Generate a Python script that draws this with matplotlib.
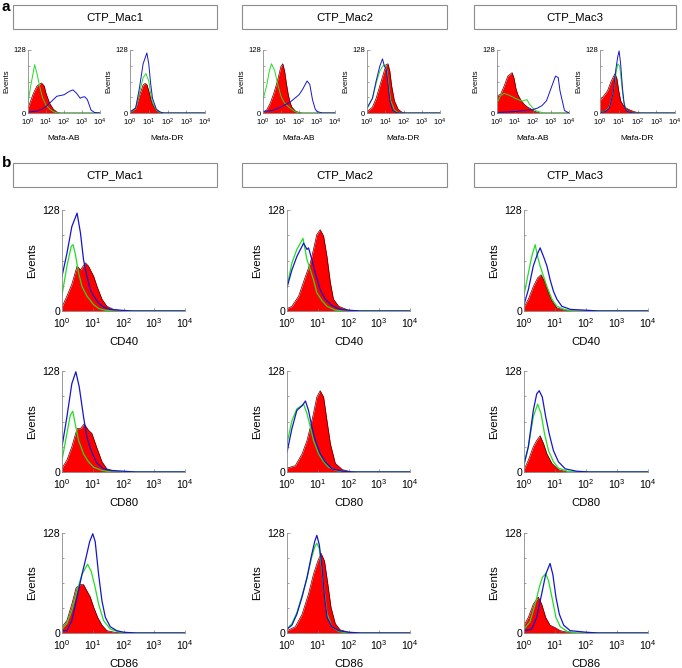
import matplotlib
matplotlib.use("Agg")
from matplotlib import pyplot as plt
from matplotlib.patches import Rectangle
import numpy as np

plt.rcParams['font.family'] = ['Liberation Sans', 'DejaVu Sans']
plt.rcParams['mathtext.fontset'] = 'custom'
plt.rcParams['mathtext.rm'] = 'Liberation Sans'
plt.rcParams['mathtext.it'] = 'Liberation Sans:italic'
plt.rcParams['mathtext.bf'] = 'Liberation Sans:bold'

# curves: (log10 fluorescence, events), one list per animal Mac1..Mac3
animals = ["CTP_Mac1", "CTP_Mac2", "CTP_Mac3"]

ab_red = [
    [(0, 10), (0.3, 40), (0.5, 55), (0.75, 61), (0.9, 55), (1.0, 40), (1.2, 20), (1.4, 8), (1.6, 2), (1.8, 0), (4, 0)],
    [(0, 2), (0.2, 6), (0.4, 20), (0.6, 40), (0.8, 65), (0.9, 80), (1.0, 95), (1.1, 100), (1.2, 85), (1.3, 60), (1.4, 38),
     (1.5, 22), (1.6, 12), (1.8, 4), (2.0, 1), (2.2, 0), (4, 0)],
    [(0, 35), (0.2, 38), (0.4, 55), (0.6, 75), (0.84, 82), (0.95, 70), (1.05, 50), (1.15, 38), (1.3, 28), (1.5, 18),
     (1.7, 12), (1.9, 8), (2.0, 5), (2.2, 2), (2.4, 0), (4, 0)],
]
ab_green = [
    [(0, 20), (0.15, 55), (0.37, 98), (0.5, 80), (0.65, 54), (0.8, 32), (1.0, 16), (1.2, 8), (1.4, 3), (1.6, 0), (4, 0)],
    [(0, 27), (0.2, 55), (0.35, 85), (0.47, 100), (0.65, 86), (0.84, 55), (1.0, 34), (1.2, 20), (1.5, 10), (1.77, 3),
     (2.0, 0), (4, 0)],
    [(0, 20), (0.2, 35), (0.4, 40), (0.6, 37), (0.8, 34), (1.0, 30), (1.2, 27), (1.4, 24), (1.55, 26), (1.67, 27),
     (1.8, 18), (2.0, 10), (2.2, 4), (2.5, 1), (2.7, 0), (4, 0)],
]
ab_blue = [
    [(0, 2), (0.5, 4), (0.8, 8), (1.0, 13), (1.4, 27), (1.6, 34), (2.0, 37), (2.3, 44), (2.5, 47), (2.7, 40), (2.9, 30),
     (3.0, 32), (3.15, 33), (3.3, 27), (3.5, 6), (3.7, 1), (4, 0)],
    [(0, 3), (0.5, 5), (1.0, 12), (1.5, 22), (2.0, 37), (2.2, 48), (2.45, 65), (2.6, 58), (2.75, 27), (2.9, 8), (3.0, 3),
     (3.3, 0), (4, 0)],
    [(0, 1), (1.0, 3), (1.5, 5), (2.0, 7), (2.25, 10), (2.5, 15), (2.75, 25), (3.0, 50), (3.25, 75), (3.4, 72), (3.5, 45),
     (3.75, 5), (4, 0)],
]

dr_red = [
    [(0, 2), (0.3, 10), (0.5, 35), (0.7, 57), (0.8, 60), (0.9, 58), (1.0, 45), (1.1, 30), (1.2, 18), (1.4, 6), (1.6, 2),
     (1.8, 0), (4, 0)],
    [(0, 3), (0.3, 12), (0.5, 30), (0.7, 55), (0.9, 80), (1.05, 98), (1.15, 100), (1.25, 85), (1.35, 55), (1.5, 25),
     (1.7, 8), (1.9, 2), (2.1, 0), (4, 0)],
    [(0, 25), (0.2, 35), (0.4, 45), (0.6, 65), (0.8, 80), (0.9, 70), (1.0, 45), (1.1, 25), (1.25, 15), (1.4, 10),
     (1.6, 6), (1.8, 3), (2.0, 1), (2.2, 0), (4, 0)],
]
dr_green = [
    [(0, 1), (0.3, 8), (0.5, 40), (0.7, 72), (0.85, 80), (1.0, 65), (1.1, 40), (1.2, 22), (1.4, 6), (1.6, 1), (1.8, 0),
     (4, 0)],
    [(0, 8), (0.3, 30), (0.5, 60), (0.7, 85), (0.85, 95), (1.0, 98), (1.1, 85), (1.2, 55), (1.3, 25), (1.5, 6), (1.7, 1),
     (1.9, 0), (4, 0)],
    [(0, 1), (0.3, 4), (0.5, 12), (0.7, 40), (0.85, 80), (0.95, 100), (1.05, 95), (1.15, 60), (1.25, 25), (1.4, 6),
     (1.6, 1), (1.8, 0), (4, 0)],
]
dr_blue = [
    [(0, 2), (0.3, 10), (0.5, 50), (0.7, 100), (0.9, 122), (1.0, 100), (1.1, 60), (1.2, 30), (1.4, 8), (1.6, 2),
     (1.8, 0), (4, 0)],
    [(0, 10), (0.3, 30), (0.5, 65), (0.7, 95), (0.85, 110), (0.95, 95), (1.05, 90), (1.15, 60), (1.25, 25), (1.4, 6),
     (1.6, 1), (1.8, 0), (4, 0)],
    [(0, 1), (0.3, 3), (0.5, 10), (0.7, 40), (0.85, 90), (0.95, 115), (1.02, 126), (1.1, 100), (1.2, 50), (1.3, 15),
     (1.4, 5), (1.6, 1), (1.8, 0), (4, 0)],
]

cd40_red = [
    [(0, 5), (0.16, 19), (0.32, 34), (0.49, 57), (0.6, 52), (0.76, 61), (0.86, 57), (1.03, 44), (1.14, 31), (1.3, 15),
     (1.46, 6), (1.68, 2), (2.0, 0), (4, 0)],
    [(0, 3), (0.16, 6), (0.38, 19), (0.6, 44), (0.76, 61), (0.86, 78), (0.97, 97), (1.08, 103), (1.19, 95), (1.3, 69),
     (1.41, 36), (1.51, 15), (1.68, 6), (2.0, 1), (2.3, 0), (4, 0)],
    [(0, 5), (0.14, 15), (0.3, 31), (0.44, 42), (0.55, 46), (0.68, 36), (0.79, 23), (0.9, 13), (1.06, 4), (1.3, 1),
     (1.6, 0), (4, 0)],
]
cd40_green = [
    [(0, 20), (0.16, 57), (0.3, 82), (0.36, 84), (0.43, 73), (0.54, 48), (0.65, 31), (0.81, 19), (1.03, 8), (1.2, 3),
     (1.4, 1), (1.7, 0), (4, 0)],
    [(0, 31), (0.16, 61), (0.32, 78), (0.49, 90), (0.52, 92), (0.65, 65), (0.76, 52), (0.86, 40), (0.97, 23), (1.14, 13),
     (1.3, 6), (1.57, 1), (1.9, 0), (4, 0)],
    [(0, 20), (0.14, 48), (0.25, 69), (0.36, 84), (0.44, 69), (0.52, 57), (0.63, 44), (0.74, 31), (0.9, 15), (1.06, 6),
     (1.3, 2), (1.6, 0), (4, 0)],
]
cd40_blue = [
    [(0, 44), (0.16, 73), (0.32, 107), (0.43, 118), (0.49, 124), (0.6, 99), (0.7, 65), (0.81, 44), (0.92, 27),
     (1.03, 19), (1.19, 10), (1.35, 5), (1.57, 2), (1.9, 1), (2.3, 0), (4, 0)],
    [(0, 30), (0.16, 52), (0.32, 69), (0.54, 86), (0.65, 78), (0.7, 80), (0.81, 65), (0.92, 48), (1.08, 27), (1.24, 15),
     (1.46, 7), (1.73, 2), (2.0, 1), (2.4, 0), (4, 0)],
    [(0, 8), (0.14, 27), (0.3, 57), (0.44, 73), (0.52, 80), (0.63, 69), (0.74, 57), (0.84, 40), (0.95, 25), (1.06, 15),
     (1.22, 6), (1.5, 2), (2.0, 1), (2.4, 0), (4, 0)],
]

cd80_red = [
    [(0, 5), (0.16, 15), (0.32, 32), (0.49, 55), (0.6, 55), (0.72, 61), (0.86, 53), (0.97, 49), (1.14, 30), (1.3, 13),
     (1.46, 4), (1.7, 1), (2.0, 0), (4, 0)],
    [(0, 5), (0.27, 8), (0.49, 23), (0.65, 40), (0.76, 57), (0.86, 74), (0.97, 95), (1.08, 103), (1.19, 95), (1.3, 65),
     (1.41, 36), (1.57, 11), (1.8, 3), (2.0, 1), (2.3, 0), (4, 0)],
    [(0, 3), (0.14, 15), (0.3, 32), (0.41, 40), (0.52, 46), (0.63, 36), (0.74, 23), (0.9, 11), (1.11, 3), (1.4, 0),
     (4, 0)],
]
cd80_green = [
    [(0, 15), (0.16, 49), (0.27, 72), (0.35, 77), (0.43, 61), (0.54, 40), (0.7, 23), (0.86, 13), (1.03, 6), (1.3, 2),
     (1.6, 0), (4, 0)],
    [(0, 36), (0.16, 65), (0.32, 80), (0.54, 86), (0.65, 74), (0.76, 57), (0.86, 40), (1.03, 23), (1.19, 13), (1.35, 6),
     (1.6, 2), (1.9, 0), (4, 0)],
    [(0, 8), (0.14, 32), (0.3, 70), (0.44, 86), (0.55, 74), (0.66, 49), (0.79, 27), (0.95, 13), (1.11, 5), (1.4, 1),
     (1.7, 0), (4, 0)],
]
cd80_blue = [
    [(0, 32), (0.16, 70), (0.32, 112), (0.45, 127), (0.56, 108), (0.7, 70), (0.81, 44), (0.97, 25), (1.14, 11),
     (1.35, 4), (1.6, 2), (2.0, 1), (2.4, 0), (4, 0)],
    [(0, 25), (0.16, 55), (0.32, 78), (0.49, 84), (0.6, 90), (0.7, 78), (0.81, 57), (0.92, 40), (1.08, 23), (1.24, 13),
     (1.46, 4), (1.8, 1), (2.2, 0), (4, 0)],
    [(0, 10), (0.14, 32), (0.3, 78), (0.41, 99), (0.49, 103), (0.59, 95), (0.7, 70), (0.81, 49), (0.95, 27), (1.11, 13),
     (1.33, 4), (1.7, 1), (2.1, 0), (4, 0)],
]

cd86_red = [
    [(0, 8), (0.16, 16), (0.32, 37), (0.46, 58), (0.59, 62), (0.7, 62), (0.81, 54), (0.92, 46), (1.03, 33), (1.16, 20),
     (1.3, 10), (1.46, 3), (1.7, 1), (2.0, 0), (4, 0)],
    [(0, 3), (0.27, 8), (0.49, 24), (0.7, 50), (0.86, 75), (1.0, 92), (1.11, 102), (1.22, 92), (1.33, 62), (1.43, 33),
     (1.57, 12), (1.73, 4), (2.0, 1), (2.3, 0), (4, 0)],
    [(0, 10), (0.14, 20), (0.3, 37), (0.46, 46), (0.57, 37), (0.7, 20), (0.84, 10), (1.0, 7), (1.17, 3), (1.4, 1),
     (1.7, 0), (4, 0)],
]
cd86_green = [
    [(0, 5), (0.16, 12), (0.32, 29), (0.49, 54), (0.65, 75), (0.83, 88), (0.95, 79), (1.08, 58), (1.19, 37), (1.35, 16),
     (1.57, 5), (1.8, 2), (2.1, 0), (4, 0)],
    [(0, 5), (0.16, 12), (0.32, 26), (0.49, 48), (0.65, 70), (0.79, 95), (0.9, 110), (0.97, 115), (1.05, 108),
     (1.14, 80), (1.22, 50), (1.3, 25), (1.46, 8), (1.68, 2), (2.0, 0), (4, 0)],
    [(0, 5), (0.19, 14), (0.36, 37), (0.49, 58), (0.59, 71), (0.7, 76), (0.79, 67), (0.9, 46), (1.03, 20), (1.17, 8),
     (1.4, 2), (1.7, 0), (4, 0)],
]
cd86_blue = [
    [(0, 3), (0.16, 3), (0.32, 16), (0.49, 46), (0.65, 75), (0.79, 98), (0.9, 117), (1.0, 127), (1.08, 117), (1.19, 75),
     (1.3, 41), (1.41, 20), (1.57, 8), (1.78, 3), (2.0, 1), (2.4, 0), (4, 0)],
    [(0, 5), (0.16, 10), (0.32, 24), (0.49, 46), (0.65, 71), (0.79, 98), (0.9, 117), (0.97, 125), (1.05, 113),
     (1.14, 84), (1.22, 46), (1.3, 20), (1.46, 8), (1.68, 3), (2.0, 1), (2.4, 0), (4, 0)],
    [(0, 3), (0.25, 5), (0.41, 20), (0.57, 50), (0.7, 75), (0.84, 89), (0.93, 75), (1.03, 46), (1.14, 24), (1.28, 10),
     (1.49, 3), (2.0, 1), (2.4, 0), (4, 0)],
]

W, H = 682, 668
fig = plt.figure(figsize=(W / 100, H / 100), dpi=100)


def px_axes(x0, x1, y0, y1):
    # pixel box (top-left origin) -> figure axes
    return fig.add_axes([x0 / W, 1 - y1 / H, (x1 - x0) / W, (y1 - y0) / H])


def title_box(x0, x1, y0, y1, text, size):
    fig.patches.append(Rectangle((x0 / W, 1 - y1 / H), (x1 - x0) / W, (y1 - y0) / H,
                                 transform=fig.transFigure, fill=False, edgecolor="#8c8c8c", lw=0.8))
    fig.text((x0 + x1) / 2 / W, 1 - (y0 + y1) / 2 / H, text, ha="center", va="center", fontsize=size)


def draw_hist(ax, red, green, blue, label, small):
    fs = 5.5 if small else 7.6
    lw = 0.7 if small else 0.9
    rx, ry = zip(*red)
    gx, gy = zip(*green)
    bx, by = zip(*blue)
    rx = 10 ** np.array(rx)
    ax.fill_between(rx, 0, ry, color="#ff0000", lw=0)
    ax.plot(rx, ry, color="#4a0000", lw=0.5)
    ax.plot(10 ** np.array(gx), gy, color="#22dd22", lw=lw)
    ax.plot(10 ** np.array(bx), by, color="#1515cc", lw=lw)
    ax.set_xscale("log")
    ax.set_xlim(1, 1e4)
    ax.set_ylim(0, 128)
    ax.set_xticks([1, 10, 100, 1000, 10000])
    ax.xaxis.set_minor_locator(matplotlib.ticker.NullLocator())
    ax.set_yticks([0, 128])
    ax.set_yticks([32, 64, 96], minor=True)
    ax.tick_params(which="both", direction="in", labelsize=fs, color="#777777")
    ax.tick_params(axis="y", pad=1.5)
    ax.tick_params(axis="x", pad=3.0 if small else 4.0)
    ax.tick_params(which="major", length=2, width=0.5)
    ax.tick_params(which="minor", length=1.5, width=0.5)
    for s in ["top", "right"]:
        ax.spines[s].set_visible(False)
    for s in ["left", "bottom"]:
        ax.spines[s].set_color("#8a8a8a")
        ax.spines[s].set_linewidth(0.6)
    ax.set_xlabel(label, fontsize=fs + (0.5 if small else 0.6))
    ax.set_ylabel("Events", fontsize=fs + (0.0 if small else 0.6))
    h = ax.get_position().height * H
    w = ax.get_position().width * W
    ax.xaxis.set_label_coords(0.5, -(25 if small else 31) / h)
    ax.xaxis.label.set_va("center")
    ax.yaxis.set_label_coords(-(21 if small else 30) / w, 0.5)
    ax.yaxis.label.set_va("center")


# panel a
fig.text(2 / W, 1 - 7 / H, "a", fontsize=11, fontweight="bold", va="center", ha="left")
box_x = [(13, 217), (242, 447), (474, 676)]
for (x0, x1), name in zip(box_x, animals):
    title_box(x0, x1, 5, 29, name, 8.2)

ab_x = [(28, 100), (263, 335), (497, 569)]
dr_x = [(130, 205), (367, 440), (600, 675)]
for i in range(3):
    ax = px_axes(ab_x[i][0], ab_x[i][1], 50, 113)
    draw_hist(ax, ab_red[i], ab_green[i], ab_blue[i], "Mafa-AB", True)
    ax = px_axes(dr_x[i][0], dr_x[i][1], 50, 113)
    draw_hist(ax, dr_red[i], dr_green[i], dr_blue[i], "Mafa-DR", True)

# panel b
fig.text(2 / W, 1 - 163 / H, "b", fontsize=11, fontweight="bold", va="center", ha="left")
for (x0, x1), name in zip(box_x, animals):
    title_box(x0, x1, 163, 187, name, 8.2)

col_x = [(62, 185), (287, 410), (524, 648)]
row_y = [(210, 311), (371, 472), (533, 633)]
markers = [("CD40", cd40_red, cd40_green, cd40_blue),
           ("CD80", cd80_red, cd80_green, cd80_blue),
           ("CD86", cd86_red, cd86_green, cd86_blue)]
for r, (label, reds, greens, blues) in enumerate(markers):
    for c in range(3):
        ax = px_axes(col_x[c][0], col_x[c][1], row_y[r][0], row_y[r][1])
        draw_hist(ax, reds[c], greens[c], blues[c], label, False)

plt.savefig("out.png", dpi=100)
